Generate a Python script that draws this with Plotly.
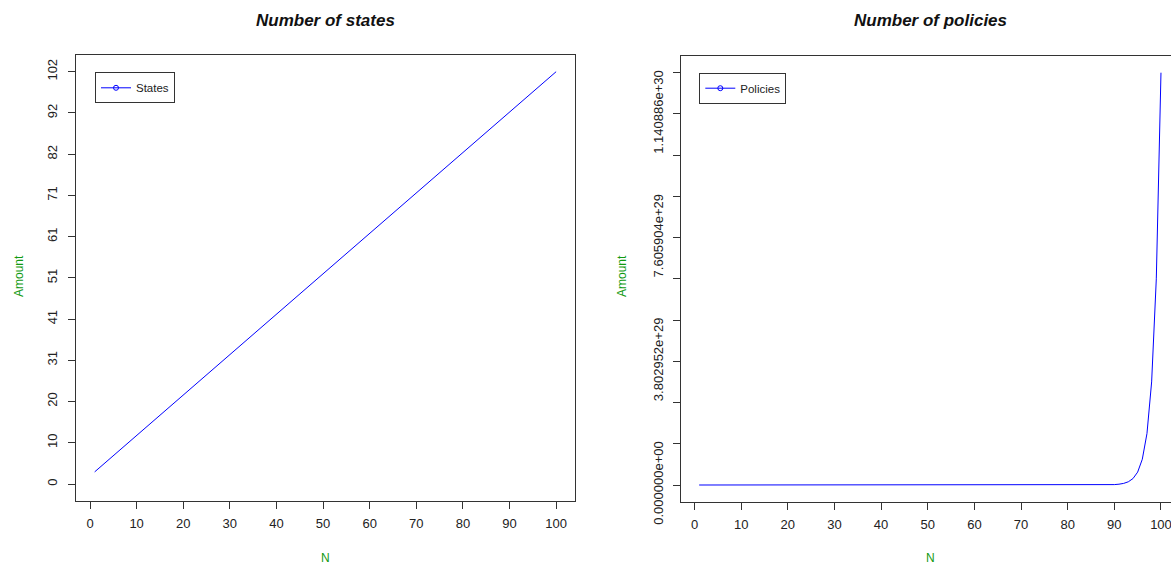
import plotly.graph_objects as go

# ---------------- data ----------------
n_values = [1, 2, 3, 4, 5, 6, 7, 8, 9, 10, 11, 12, 13, 14, 15, 16, 17, 18, 19, 20,
            21, 22, 23, 24, 25, 26, 27, 28, 29, 30, 31, 32, 33, 34, 35, 36, 37, 38, 39, 40,
            41, 42, 43, 44, 45, 46, 47, 48, 49, 50, 51, 52, 53, 54, 55, 56, 57, 58, 59, 60,
            61, 62, 63, 64, 65, 66, 67, 68, 69, 70, 71, 72, 73, 74, 75, 76, 77, 78, 79, 80,
            81, 82, 83, 84, 85, 86, 87, 88, 89, 90, 91, 92, 93, 94, 95, 96, 97, 98, 99, 100]

states = [3, 4, 5, 6, 7, 8, 9, 10, 11, 12, 13, 14, 15, 16, 17, 18, 19, 20, 21, 22,
          23, 24, 25, 26, 27, 28, 29, 30, 31, 32, 33, 34, 35, 36, 37, 38, 39, 40, 41, 42,
          43, 44, 45, 46, 47, 48, 49, 50, 51, 52, 53, 54, 55, 56, 57, 58, 59, 60, 61, 62,
          63, 64, 65, 66, 67, 68, 69, 70, 71, 72, 73, 74, 75, 76, 77, 78, 79, 80, 81, 82,
          83, 84, 85, 86, 87, 88, 89, 90, 91, 92, 93, 94, 95, 96, 97, 98, 99, 100, 101, 102]

policies = [2, 4, 8, 16, 32, 64, 128, 256, 512, 1024,
            2048, 4096, 8192, 16384, 32768, 65536, 131072, 262144, 524288, 1048576,
            2097152, 4194304, 8388608, 16777216, 33554432, 67108864, 134217728, 268435456,
            536870912, 1073741824,
            2.147e9, 4.295e9, 8.590e9, 1.718e10, 3.436e10, 6.872e10, 1.374e11, 2.749e11,
            5.498e11, 1.0995e12,
            2.199e12, 4.398e12, 8.796e12, 1.759e13, 3.518e13, 7.037e13, 1.407e14, 2.815e14,
            5.629e14, 1.1259e15,
            2.252e15, 4.504e15, 9.007e15, 1.801e16, 3.603e16, 7.206e16, 1.441e17, 2.882e17,
            5.765e17, 1.1529e18,
            2.306e18, 4.612e18, 9.223e18, 1.845e19, 3.689e19, 7.379e19, 1.476e20, 2.951e20,
            5.903e20, 1.1806e21,
            2.361e21, 4.722e21, 9.445e21, 1.889e22, 3.778e22, 7.556e22, 1.511e23, 3.022e23,
            6.045e23, 1.2089e24,
            2.418e24, 4.836e24, 9.671e24, 1.934e25, 3.869e25, 7.737e25, 1.547e26, 3.095e26,
            6.190e26, 1.2379e27,
            2.4759e27, 4.9518e27, 9.9035e27, 1.9807e28, 3.9614e28, 7.9228e28, 1.5846e29,
            3.1691e29, 6.3383e29, 1.2676506e30]

x_tick_values = [0, 10, 20, 30, 40, 50, 60, 70, 80, 90, 100]
states_tick_labels = ["0", "10", "20", "31", "41", "51", "61", "71", "82", "92", "102"]
policies_tick_labels = ["0.000000e+00", "", "", "3.802952e+29", "", "",
                        "7.605904e+29", "", "", "1.140886e+30", ""]

# ---------------- layout helpers ----------------
W, H = 1171, 566
def px(x):
    return x / W
def py(y):
    return 1 - y / H

FONT = "Arial, 'Liberation Sans', sans-serif"
BLUE = "#0000FF"
GREEN = "#119A11"
AXC = "#333333"

s_max = max(states)
p_max = max(policies)
states_tick_vals = [s_max * k / 10 for k in range(11)]
policies_tick_vals = [p_max * k / 10 for k in range(11)]

fig = go.Figure()

# real data lines
fig.add_trace(go.Scatter(x=n_values, y=states, mode="lines",
                         line=dict(color=BLUE, width=1), showlegend=False,
                         xaxis="x", yaxis="y"))
fig.add_trace(go.Scatter(x=n_values, y=policies, mode="lines",
                         line=dict(color=BLUE, width=1), showlegend=False,
                         xaxis="x2", yaxis="y2"))
# legend entries (line + open circle)
fig.add_trace(go.Scatter(x=[None], y=[None], mode="lines+markers", name="States",
                         line=dict(color=BLUE, width=1),
                         marker=dict(symbol="circle-open", size=5, color=BLUE),
                         xaxis="x", yaxis="y", legend="legend"))
fig.add_trace(go.Scatter(x=[None], y=[None], mode="lines+markers", name="Policies",
                         line=dict(color=BLUE, width=1),
                         marker=dict(symbol="circle-open", size=5, color=BLUE),
                         xaxis="x2", yaxis="y2", legend="legend2"))

axis_common = dict(showgrid=False, zeroline=False, showline=True, linecolor=AXC,
                   linewidth=1, ticks="outside", ticklen=7, tickwidth=1,
                   automargin=False, ticklabeloverflow="allow",
                   tickcolor=AXC, tickfont=dict(family=FONT, size=13, color="#222222"))

fig.update_layout(
    template="none",
    width=W, height=H, autosize=False,
    margin=dict(l=0, r=0, t=0, b=0, pad=0),
    paper_bgcolor="white", plot_bgcolor="white",
    font=dict(family=FONT, color="#222222"),
    xaxis=dict(domain=[px(76.2), px(574.6)], range=[-2.96, 103.96],
               tickmode="array", tickvals=x_tick_values, mirror=True,
               anchor="y", ticklabelstandoff=4, **axis_common),
    yaxis=dict(domain=[py(500.5), py(55.2)], range=[-4.08, 106.08],
               tickmode="array", tickvals=states_tick_vals, ticktext=states_tick_labels,
               tickangle=-90, mirror=True, anchor="x", ticklabelstandoff=6,
               **axis_common),
    xaxis2=dict(domain=[px(680.7), 1.0], range=[-2.96, 102.15],
                tickmode="array", tickvals=x_tick_values, mirror=True,
                anchor="y2", ticklabelstandoff=4, **axis_common),
    yaxis2=dict(domain=[py(501.5), py(56.2)], range=[-0.04 * p_max, 1.04 * p_max],
                tickmode="array", tickvals=policies_tick_vals, ticktext=policies_tick_labels,
                tickangle=-90, mirror=False, anchor="x2", ticklabelstandoff=5,
                **axis_common),
    legend=dict(x=px(95), y=py(72.3), xanchor="left", yanchor="top",
                bordercolor=AXC, borderwidth=1, bgcolor="white",
                font=dict(family=FONT, size=11.5, color="#222222")),
    legend2=dict(x=px(699.3), y=py(72.7), xanchor="left", yanchor="top",
                 bordercolor=AXC, borderwidth=1, bgcolor="white",
                 font=dict(family=FONT, size=11.5, color="#222222")),
)

annotations = [
    dict(text="<b><i>Number of states</i></b>", x=px(325.5), y=py(20), xref="paper",
         yref="paper", showarrow=False, xanchor="center", yanchor="middle",
         font=dict(family=FONT, size=17, color="#111111")),
    dict(text="<b><i>Number of policies</i></b>", x=px(930), y=py(20), xref="paper",
         yref="paper", showarrow=False, xanchor="center", yanchor="middle",
         font=dict(family=FONT, size=17, color="#111111")),
    dict(text="N", x=px(325.5), y=py(557.5), xref="paper", yref="paper", showarrow=False,
         xanchor="center", yanchor="middle", font=dict(family=FONT, size=12, color=GREEN)),
    dict(text="N", x=px(930), y=py(557.5), xref="paper", yref="paper", showarrow=False,
         xanchor="center", yanchor="middle", font=dict(family=FONT, size=12, color=GREEN)),
    dict(text="Amount", x=px(19), y=py(276), xref="paper", yref="paper", showarrow=False,
         textangle=-90, xanchor="center", yanchor="middle",
         font=dict(family=FONT, size=12, color=GREEN)),
    dict(text="Amount", x=px(622), y=py(276), xref="paper", yref="paper", showarrow=False,
         textangle=-90, xanchor="center", yanchor="middle",
         font=dict(family=FONT, size=12, color=GREEN)),
]
fig.update_layout(annotations=annotations)

fig.write_html("out.html",
               config={"displayModeBar": False, "responsive": False},
               post_script="document.body.style.margin='0';"
                           "document.documentElement.style.overflow='hidden';"
                           "document.body.style.overflow='hidden';")
